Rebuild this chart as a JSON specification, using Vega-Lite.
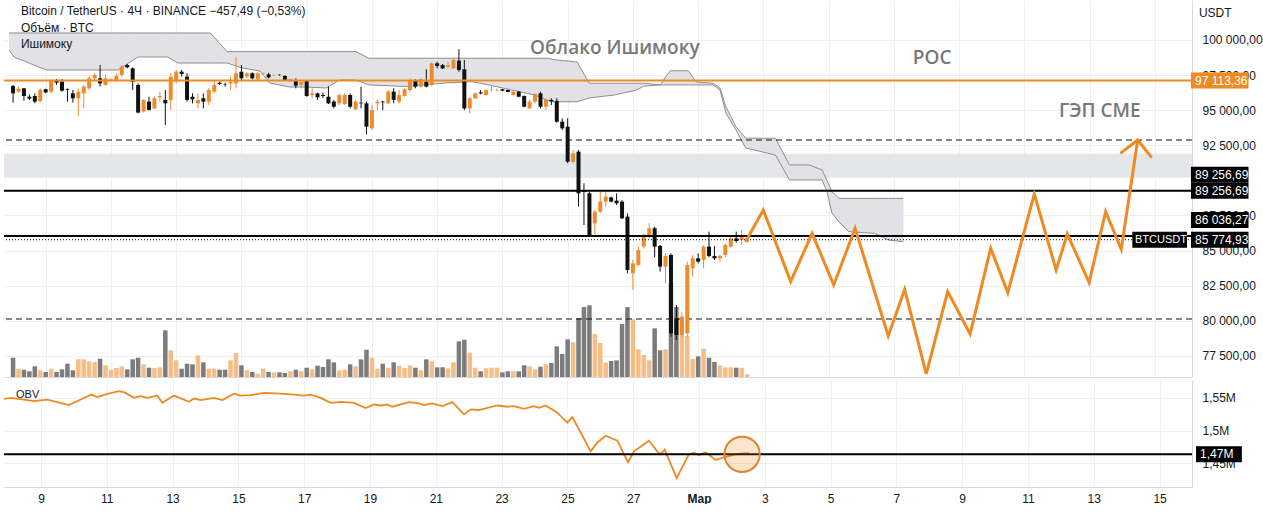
{
"$schema":"https://vega.github.io/schema/vega-lite/v6.json",
"padding":0,
"background":"white",
"spacing":0,
"config":{"view":{"stroke":null},"font":"Liberation Sans","axis":{"gridColor":"#eef0f5","domainColor":"#d6d9e0","labelColor":"#131722","labelFontSize":12,"labelFont":"Liberation Sans","ticks":false,"title":null}},
"datasets":{
"candles":[
{"d":8,"o":96720,"h":96800,"l":95540,"c":96200,"v":5115},
{"d":8.167,"o":96320,"h":96680,"l":96250,"c":96530,"v":2200},
{"d":8.333,"o":96560,"h":96560,"l":95680,"c":96010,"v":1935},
{"d":8.5,"o":95960,"h":96130,"l":95730,"c":95820,"v":1510},
{"d":8.667,"o":96010,"h":96200,"l":95490,"c":95610,"v":2835},
{"d":8.833,"o":95660,"h":96560,"l":95540,"c":96440,"v":1775},
{"d":9,"o":96490,"h":96540,"l":96200,"c":96270,"v":1325},
{"d":9.167,"o":96320,"h":97200,"l":96200,"c":97150,"v":2200},
{"d":9.333,"o":97080,"h":97220,"l":96800,"c":96960,"v":1325},
{"d":9.5,"o":97030,"h":97220,"l":96320,"c":96390,"v":2040},
{"d":9.667,"o":96490,"h":96560,"l":95610,"c":96440,"v":3525},
{"d":9.833,"o":96200,"h":96440,"l":95540,"c":95850,"v":1775},
{"d":10,"o":95850,"h":96560,"l":94590,"c":96320,"v":4690},
{"d":10.167,"o":96200,"h":96800,"l":95130,"c":96680,"v":4690},
{"d":10.333,"o":96560,"h":97390,"l":96440,"c":97270,"v":4160},
{"d":10.5,"o":97270,"h":97630,"l":97150,"c":97510,"v":3975},
{"d":10.667,"o":97270,"h":98220,"l":96680,"c":96910,"v":4850},
{"d":10.833,"o":96800,"h":97510,"l":96750,"c":97270,"v":3100},
{"d":11,"o":97150,"h":97270,"l":97100,"c":97200,"v":1935},
{"d":11.167,"o":97150,"h":97630,"l":97030,"c":97440,"v":2385},
{"d":11.333,"o":97510,"h":98220,"l":97390,"c":98100,"v":2835},
{"d":11.5,"o":98220,"h":98290,"l":97980,"c":98050,"v":2040},
{"d":11.667,"o":97980,"h":98050,"l":96440,"c":97030,"v":4690},
{"d":11.833,"o":96800,"h":96910,"l":94780,"c":94830,"v":5115},
{"d":12,"o":94900,"h":95770,"l":94830,"c":95730,"v":3365},
{"d":12.167,"o":95610,"h":95960,"l":94970,"c":95020,"v":2465},
{"d":12.333,"o":95130,"h":95960,"l":95090,"c":95850,"v":2385},
{"d":12.5,"o":95920,"h":96320,"l":95610,"c":96010,"v":2570},
{"d":12.667,"o":95730,"h":96440,"l":93950,"c":95490,"v":12375},
{"d":12.833,"o":95730,"h":97630,"l":95020,"c":97390,"v":7075},
{"d":13,"o":97030,"h":97860,"l":96910,"c":97740,"v":4425},
{"d":13.167,"o":97740,"h":97860,"l":97390,"c":97580,"v":2200},
{"d":13.333,"o":97390,"h":97630,"l":95610,"c":95730,"v":3525},
{"d":13.5,"o":95960,"h":96200,"l":95490,"c":95770,"v":3365},
{"d":13.667,"o":95490,"h":96200,"l":95130,"c":95730,"v":5750},
{"d":13.833,"o":95850,"h":96200,"l":95130,"c":95610,"v":3895},
{"d":14,"o":95610,"h":96560,"l":95370,"c":96440,"v":2200},
{"d":14.167,"o":96320,"h":97150,"l":96200,"c":96800,"v":2200},
{"d":14.333,"o":96960,"h":97030,"l":96800,"c":96870,"v":1935},
{"d":14.5,"o":96850,"h":96960,"l":96680,"c":96820,"v":1935},
{"d":14.667,"o":96910,"h":97390,"l":96440,"c":97030,"v":4425},
{"d":14.833,"o":96910,"h":98810,"l":96560,"c":97630,"v":6360},
{"d":15,"o":97740,"h":98220,"l":97150,"c":97270,"v":3100},
{"d":15.167,"o":97390,"h":97700,"l":97300,"c":97630,"v":1775},
{"d":15.333,"o":97630,"h":97700,"l":97200,"c":97270,"v":1325},
{"d":15.5,"o":97200,"h":97740,"l":97150,"c":97630,"v":875},
{"d":15.667,"o":97580,"h":97680,"l":97550,"c":97620,"v":2200},
{"d":15.833,"o":97550,"h":97670,"l":97270,"c":97340,"v":1325},
{"d":16,"o":97480,"h":97560,"l":97440,"c":97510,"v":1245},
{"d":16.167,"o":97520,"h":97560,"l":97460,"c":97490,"v":1245},
{"d":16.333,"o":97440,"h":97500,"l":97100,"c":97150,"v":1060},
{"d":16.5,"o":97100,"h":97260,"l":97050,"c":97200,"v":1510},
{"d":16.667,"o":97150,"h":97270,"l":96560,"c":96750,"v":1935},
{"d":16.833,"o":96800,"h":97030,"l":96560,"c":97030,"v":1510},
{"d":17,"o":97100,"h":97150,"l":95960,"c":96010,"v":2465},
{"d":17.167,"o":96080,"h":96560,"l":95850,"c":96200,"v":2040},
{"d":17.333,"o":96200,"h":96250,"l":95730,"c":95920,"v":2995},
{"d":17.5,"o":96080,"h":96250,"l":95850,"c":96010,"v":2650},
{"d":17.667,"o":95960,"h":96680,"l":95440,"c":95490,"v":4690},
{"d":17.833,"o":95610,"h":95730,"l":95130,"c":95250,"v":3895},
{"d":18,"o":95490,"h":96200,"l":95370,"c":96080,"v":1775},
{"d":18.167,"o":95440,"h":96200,"l":95370,"c":96080,"v":1935},
{"d":18.333,"o":96080,"h":96200,"l":95130,"c":95250,"v":3365},
{"d":18.5,"o":95060,"h":95730,"l":95010,"c":95610,"v":2835},
{"d":18.667,"o":95540,"h":96680,"l":95130,"c":95490,"v":4690},
{"d":18.833,"o":95490,"h":95610,"l":93280,"c":93830,"v":7235},
{"d":19,"o":93710,"h":95370,"l":93590,"c":95010,"v":5115},
{"d":19.167,"o":95490,"h":95730,"l":95010,"c":95610,"v":2200},
{"d":19.333,"o":95610,"h":95660,"l":95010,"c":95560,"v":3525},
{"d":19.5,"o":95490,"h":96440,"l":95440,"c":96320,"v":2465},
{"d":19.667,"o":96320,"h":96560,"l":95490,"c":95730,"v":3895},
{"d":19.833,"o":95610,"h":96440,"l":95490,"c":96080,"v":2995},
{"d":20,"o":96010,"h":96560,"l":95960,"c":96490,"v":2385},
{"d":20.167,"o":96440,"h":97270,"l":96320,"c":97100,"v":3100},
{"d":20.333,"o":97100,"h":97200,"l":96560,"c":96680,"v":2465},
{"d":20.5,"o":96680,"h":97250,"l":96620,"c":97200,"v":1775},
{"d":20.667,"o":97030,"h":97910,"l":96630,"c":96680,"v":4690},
{"d":20.833,"o":96800,"h":98390,"l":96720,"c":98340,"v":4160},
{"d":21,"o":98340,"h":98460,"l":97980,"c":98150,"v":2570},
{"d":21.167,"o":98220,"h":98290,"l":97930,"c":97980,"v":2570},
{"d":21.333,"o":98100,"h":98460,"l":97980,"c":98220,"v":2305},
{"d":21.5,"o":97980,"h":98650,"l":97930,"c":98580,"v":3895},
{"d":21.667,"o":98530,"h":99340,"l":97740,"c":97860,"v":9460},
{"d":21.833,"o":97910,"h":98580,"l":95010,"c":95130,"v":9885},
{"d":22,"o":95130,"h":95960,"l":94780,"c":95850,"v":6440},
{"d":22.167,"o":95850,"h":96250,"l":95800,"c":96200,"v":2465},
{"d":22.333,"o":96270,"h":96440,"l":96130,"c":96200,"v":1510},
{"d":22.5,"o":96080,"h":96480,"l":96050,"c":96440,"v":2305},
{"d":22.667,"o":96460,"h":96800,"l":96320,"c":96490,"v":2465},
{"d":22.833,"o":96420,"h":96560,"l":96320,"c":96440,"v":2465},
{"d":23,"o":96490,"h":96520,"l":96350,"c":96390,"v":1245},
{"d":23.167,"o":96440,"h":96470,"l":96270,"c":96300,"v":1510},
{"d":23.333,"o":96080,"h":96360,"l":96050,"c":96320,"v":1510},
{"d":23.5,"o":96320,"h":96360,"l":95920,"c":95960,"v":1510},
{"d":23.667,"o":96010,"h":96050,"l":95200,"c":95250,"v":3100},
{"d":23.833,"o":95130,"h":95730,"l":95060,"c":95610,"v":2835},
{"d":24,"o":95610,"h":96200,"l":95490,"c":96150,"v":2040},
{"d":24.167,"o":96200,"h":96320,"l":95130,"c":95250,"v":2730},
{"d":24.333,"o":95250,"h":95850,"l":95010,"c":95770,"v":3365},
{"d":24.5,"o":95730,"h":95850,"l":95370,"c":95630,"v":3710},
{"d":24.667,"o":95660,"h":95850,"l":94110,"c":94180,"v":8135},
{"d":24.833,"o":94180,"h":94420,"l":93590,"c":93710,"v":6095},
{"d":25,"o":93830,"h":94420,"l":91220,"c":91330,"v":9990},
{"d":25.167,"o":91330,"h":92170,"l":91220,"c":91930,"v":9195},
{"d":25.333,"o":92050,"h":92170,"l":88130,"c":89080,"v":15635},
{"d":25.5,"o":89250,"h":89790,"l":86820,"c":89180,"v":18550},
{"d":25.667,"o":89080,"h":89200,"l":85990,"c":86000,"v":19000},
{"d":25.833,"o":86940,"h":87890,"l":86110,"c":87770,"v":11395},
{"d":26,"o":87770,"h":89200,"l":87660,"c":88490,"v":9010},
{"d":26.167,"o":88490,"h":89200,"l":88130,"c":88840,"v":3840},
{"d":26.333,"o":88790,"h":88840,"l":88440,"c":88490,"v":4240},
{"d":26.5,"o":88560,"h":89080,"l":88250,"c":88370,"v":4425},
{"d":26.667,"o":88485,"h":88600,"l":87250,"c":87300,"v":14045},
{"d":26.833,"o":87420,"h":87650,"l":83380,"c":83620,"v":18550},
{"d":27,"o":83380,"h":84330,"l":82190,"c":84090,"v":15290},
{"d":27.167,"o":83980,"h":85280,"l":83860,"c":85040,"v":7340},
{"d":27.333,"o":85280,"h":86230,"l":85160,"c":86110,"v":5830},
{"d":27.5,"o":85990,"h":86940,"l":85870,"c":86590,"v":4425},
{"d":27.667,"o":86590,"h":86700,"l":84520,"c":85280,"v":12905},
{"d":27.833,"o":85330,"h":85400,"l":83500,"c":83860,"v":7075},
{"d":28,"o":83860,"h":84800,"l":82670,"c":84620,"v":7340},
{"d":28.167,"o":84690,"h":84800,"l":78870,"c":79110,"v":24910},
{"d":28.333,"o":80175,"h":81125,"l":78630,"c":78990,"v":18550},
{"d":28.5,"o":78990,"h":80650,"l":78870,"c":80290,"v":15900},
{"d":28.667,"o":79110,"h":84210,"l":78870,"c":83970,"v":10865},
{"d":28.833,"o":83740,"h":84690,"l":83140,"c":84450,"v":4770},
{"d":29,"o":84450,"h":84800,"l":84090,"c":84210,"v":5485},
{"d":29.167,"o":84330,"h":85400,"l":83740,"c":85280,"v":7500},
{"d":29.333,"o":85280,"h":86350,"l":84520,"c":84620,"v":5115},
{"d":29.5,"o":84620,"h":85330,"l":84330,"c":84450,"v":3975},
{"d":29.667,"o":84450,"h":84690,"l":84210,"c":84620,"v":3100},
{"d":29.833,"o":84690,"h":85520,"l":84520,"c":85400,"v":2570},
{"d":30,"o":85280,"h":86110,"l":85230,"c":85870,"v":2570},
{"d":30.167,"o":85870,"h":86350,"l":85560,"c":85680,"v":2465},
{"d":30.333,"o":85750,"h":86470,"l":85400,"c":85990,"v":2465},
{"d":30.5,"o":85640,"h":86000,"l":85580,"c":85775,"v":715}
],
"cloud":[
{"d":7.875,"a":100500,"b":99290},{"d":8.03,"a":100500,"b":98790},{"d":8.79,"a":100500,"b":98080},{"d":9.03,"a":100500,"b":97860},
{"d":11.22,"a":100500,"b":97860},{"d":11.68,"a":100500,"b":98570},{"d":11.83,"a":100500,"b":98790},{"d":12.74,"a":100500,"b":98790},
{"d":13.04,"a":100500,"b":98360},{"d":14.05,"a":100500,"b":98360},{"d":14.56,"a":99170,"b":98360},{"d":15.02,"a":99170,"b":98010},
{"d":15.57,"a":99170,"b":97790},{"d":15.87,"a":99170,"b":96940},{"d":16.48,"a":99170,"b":96650},{"d":17.0,"a":99170,"b":96650},
{"d":17.6,"a":99170,"b":96580},{"d":18.0,"a":99170,"b":97150},{"d":18.51,"a":99170,"b":97150},{"d":18.91,"a":98700,"b":96800},
{"d":20.03,"a":98700,"b":96690},{"d":21.25,"a":98700,"b":96940},{"d":22.06,"a":98700,"b":97030},{"d":22.37,"a":98700,"b":96900},
{"d":23.29,"a":98700,"b":96440},{"d":23.99,"a":98700,"b":96080},{"d":24.38,"a":98700,"b":95700},{"d":24.59,"a":98600,"b":95600},
{"d":25.29,"a":98430,"b":95600},{"d":25.66,"a":96920,"b":95870},{"d":26.42,"a":96920,"b":96080},{"d":27.12,"a":96920,"b":96440},
{"d":27.33,"a":96920,"b":96720},{"d":27.85,"a":96800,"b":96800},{"d":28.0,"a":97360,"b":96800},{"d":28.15,"a":97810,"b":96800},
{"d":28.7,"a":97810,"b":96800},{"d":28.94,"a":97010,"b":96800},{"d":29.46,"a":96920,"b":96800},{"d":29.67,"a":96580,"b":96440},
{"d":29.85,"a":95250,"b":94800},{"d":30.16,"a":93820,"b":93590},{"d":30.46,"a":93020,"b":92310},{"d":30.98,"a":93000,"b":92020},
{"d":31.37,"a":93000,"b":91810},{"d":31.8,"a":91100,"b":90030},{"d":32.41,"a":91100,"b":90030},{"d":32.8,"a":90740,"b":90030},
{"d":32.95,"a":90000,"b":89200},{"d":33.1,"a":89190,"b":87680},{"d":33.32,"a":88720,"b":87040},{"d":33.62,"a":88720,"b":86350},
{"d":34.41,"a":88720,"b":86230},{"d":34.84,"a":88720,"b":85750},{"d":35.29,"a":88720,"b":85630}
],
"zigzag":[
{"d":30.47,"p":85700,"seg":"main","k":0},{"d":30.997,"p":87893,"seg":"main","k":1},{"d":31.836,"p":82788,"seg":"main","k":2},
{"d":32.495,"p":86231,"seg":"main","k":3},{"d":33.155,"p":82551,"seg":"main","k":4},{"d":33.812,"p":86587,"seg":"main","k":5},
{"d":34.827,"p":78919,"seg":"main","k":6},{"d":35.331,"p":82242,"seg":"main","k":7},{"d":35.991,"p":76212,"seg":"main","k":8},
{"d":36.65,"p":82076,"seg":"main","k":9},{"d":37.337,"p":79061,"seg":"main","k":10},{"d":37.967,"p":85163,"seg":"main","k":11},
{"d":38.492,"p":82005,"seg":"main","k":12},{"d":39.304,"p":89032,"seg":"main","k":13},{"d":39.973,"p":83619,"seg":"main","k":14},
{"d":40.316,"p":86184,"seg":"main","k":15},{"d":40.985,"p":82717,"seg":"main","k":16},{"d":41.492,"p":87774,"seg":"main","k":17},
{"d":41.97,"p":85092,"seg":"main","k":18},{"d":42.474,"p":92878,"seg":"main","k":19},
{"d":41.97,"p":91976,"seg":"w1","k":0},{"d":42.474,"p":92878,"seg":"w1","k":1},
{"d":42.474,"p":92878,"seg":"w2","k":0},{"d":42.881,"p":91693,"seg":"w2","k":1}
],
"obv":[
{"d":7.875,"v":1.5485},{"d":8.079,"v":1.55},{"d":8.483,"v":1.5474},{"d":8.787,"v":1.545},{"d":9.192,"v":1.5474},{"d":9.496,"v":1.5435},
{"d":9.851,"v":1.5389},{"d":10.206,"v":1.5474},{"d":10.529,"v":1.555},{"d":10.712,"v":1.5511},{"d":11.016,"v":1.5561},{"d":11.371,"v":1.5601},
{"d":11.523,"v":1.5586},{"d":11.827,"v":1.55},{"d":12.03,"v":1.5525},{"d":12.232,"v":1.55},{"d":12.535,"v":1.5535},{"d":12.687,"v":1.5424},
{"d":13.042,"v":1.5535},{"d":13.499,"v":1.5439},{"d":13.651,"v":1.5489},{"d":13.854,"v":1.5465},{"d":14.258,"v":1.55},{"d":14.511,"v":1.5465},
{"d":14.866,"v":1.5565},{"d":15.07,"v":1.5535},{"d":15.374,"v":1.5541},{"d":15.778,"v":1.5576},{"d":16.286,"v":1.5565},{"d":16.69,"v":1.555},
{"d":16.994,"v":1.5535},{"d":17.197,"v":1.555},{"d":17.501,"v":1.55},{"d":17.805,"v":1.5424},{"d":18.109,"v":1.5439},{"d":18.514,"v":1.5424},
{"d":18.869,"v":1.5344},{"d":19.122,"v":1.5398},{"d":19.325,"v":1.5383},{"d":19.526,"v":1.5398},{"d":19.678,"v":1.5364},{"d":20.186,"v":1.5435},
{"d":20.489,"v":1.5414},{"d":20.641,"v":1.5389},{"d":20.894,"v":1.5414},{"d":21.198,"v":1.5374},{"d":21.501,"v":1.5435},{"d":21.857,"v":1.5247},
{"d":22.06,"v":1.5323},{"d":22.313,"v":1.5314},{"d":22.869,"v":1.5383},{"d":23.173,"v":1.5364},{"d":23.377,"v":1.5374},{"d":23.681,"v":1.5333},
{"d":23.985,"v":1.5374},{"d":24.137,"v":1.5348},{"d":24.34,"v":1.5383},{"d":24.693,"v":1.5273},{"d":24.997,"v":1.5121},{"d":25.149,"v":1.5207},
{"d":25.404,"v":1.497},{"d":25.708,"v":1.4682},{"d":25.909,"v":1.4818},{"d":26.164,"v":1.492},{"d":26.517,"v":1.4844},{"d":26.842,"v":1.4515},
{"d":27.025,"v":1.4682},{"d":27.48,"v":1.4844},{"d":27.733,"v":1.4677},{"d":27.836,"v":1.4641},{"d":27.957,"v":1.4708},{"d":28.14,"v":1.4489},
{"d":28.322,"v":1.4273},{"d":28.696,"v":1.4641},{"d":28.848,"v":1.4656},{"d":28.999,"v":1.4626},{"d":29.203,"v":1.4667},{"d":29.507,"v":1.455},
{"d":29.76,"v":1.4591},{"d":30.164,"v":1.4641},{"d":30.52,"v":1.4652}
]
},
"resolve":{"scale":{"x":"independent","y":"independent"}},
"vconcat":[
{
"width":1188,"height":377,
"resolve":{"scale":{"y":"independent"}},
"layer":[
{"data":{"name":"candles"},"mark":{"type":"bar","width":4.5},
 "encoding":{
  "x":{"field":"d","type":"quantitative","scale":{"domain":[7.8754,43.985],"nice":false,"zero":false},
       "axis":{"orient":"bottom","values":[9,11,13,15,17,19,21,23,25,27,29,31,33,35,37,39,41,43],"labels":false,"grid":true,"domain":true,"ticks":false,"minExtent":0,"maxExtent":0}},
  "y":{"field":"v","type":"quantitative","scale":{"domain":[0,100000],"nice":false,"zero":true},"axis":null},
  "color":{"condition":{"test":"datum.c >= datum.o","value":"#f6bd87"},"value":"#7c7c7c"}}},
{"layer":[
 {"data":{"name":"candles"},"mark":{"type":"rule","strokeWidth":1},
  "encoding":{"x":{"field":"d","type":"quantitative","scale":{"domain":[7.8754,43.985],"nice":false,"zero":false}},
   "y":{"field":"l","type":"quantitative","scale":{"domain":[75996,102849],"nice":false,"zero":false},
        "axis":{"orient":"right","values":[77500,80000,82500,85000,87500,92500,95000,97500,100000],"labelExpr":"replace(replace(format(datum.value, ',.2f'), ',', ' '), '.', ',')","grid":true,"domain":true,"ticks":false,"labelPadding":10}},
   "y2":{"field":"h"},
   "color":{"value":"transparent"}}},
 {"data":{"values":[{"lo":90190,"hi":91900}]},"mark":{"type":"rect","color":"#e5e6e9"},
  "encoding":{"y":{"field":"lo","type":"quantitative","scale":{"domain":[75996,102849],"nice":false,"zero":false}},"y2":{"field":"hi"}}},
 {"data":{"name":"cloud"},"mark":{"type":"area","color":"#e2e2e6","opacity":1},
  "encoding":{"x":{"field":"d","type":"quantitative","scale":{"domain":[7.8754,43.985],"nice":false,"zero":false}},
   "y":{"field":"a","type":"quantitative","scale":{"domain":[75996,102849],"nice":false,"zero":false}},"y2":{"field":"b"}}},
 {"data":{"name":"cloud"},"mark":{"type":"line","color":"#8e8e93","strokeWidth":1},
  "encoding":{"x":{"field":"d","type":"quantitative","scale":{"domain":[7.8754,43.985],"nice":false,"zero":false}},
   "y":{"field":"a","type":"quantitative","scale":{"domain":[75996,102849],"nice":false,"zero":false}}}},
 {"data":{"name":"cloud"},"mark":{"type":"line","color":"#8e8e93","strokeWidth":1},
  "encoding":{"x":{"field":"d","type":"quantitative","scale":{"domain":[7.8754,43.985],"nice":false,"zero":false}},
   "y":{"field":"b","type":"quantitative","scale":{"domain":[75996,102849],"nice":false,"zero":false}}}},
 {"data":{"values":[{"p":92877},{"p":80127}]},"mark":{"type":"rule","color":"#111111","strokeWidth":1,"strokeDash":[6,4]},
  "encoding":{"y":{"field":"p","type":"quantitative","scale":{"domain":[75996,102849],"nice":false,"zero":false}}}},
 {"data":{"name":"candles"},"mark":{"type":"rule","strokeWidth":1},
  "encoding":{"x":{"field":"d","type":"quantitative","scale":{"domain":[7.8754,43.985],"nice":false,"zero":false}},
   "y":{"field":"l","type":"quantitative","scale":{"domain":[75996,102849],"nice":false,"zero":false}},
   "y2":{"field":"h"},
   "color":{"condition":{"test":"datum.c >= datum.o","value":"#ee8b2d"},"value":"#111111"}}},
 {"data":{"name":"candles"},"mark":{"type":"bar","width":4},
  "encoding":{"x":{"field":"d","type":"quantitative","scale":{"domain":[7.8754,43.985],"nice":false,"zero":false}},
   "y":{"field":"o","type":"quantitative","scale":{"domain":[75996,102849],"nice":false,"zero":false}},
   "y2":{"field":"c"},
   "color":{"condition":{"test":"datum.c >= datum.o","value":"#ee8b2d"},"value":"#111111"}}},
 {"data":{"values":[{"p":97113.36}]},"mark":{"type":"rule","color":"#ef8a22","strokeWidth":2},
  "encoding":{"y":{"field":"p","type":"quantitative","scale":{"domain":[75996,102849],"nice":false,"zero":false}}}},
 {"data":{"values":[{"p":89256.69},{"p":86036.27}]},"mark":{"type":"rule","color":"#000000","strokeWidth":2},
  "encoding":{"y":{"field":"p","type":"quantitative","scale":{"domain":[75996,102849],"nice":false,"zero":false}}}},
 {"data":{"values":[{"p":85774.93}]},"mark":{"type":"rule","color":"#111111","strokeWidth":1,"strokeDash":[1,2]},
  "encoding":{"y":{"field":"p","type":"quantitative","scale":{"domain":[75996,102849],"nice":false,"zero":false}}}},
 {"data":{"name":"zigzag"},"mark":{"type":"line","color":"#ef8a22","strokeWidth":3,"strokeJoin":"miter","strokeCap":"round"},
  "encoding":{"x":{"field":"d","type":"quantitative","scale":{"domain":[7.8754,43.985],"nice":false,"zero":false}},
   "y":{"field":"p","type":"quantitative","scale":{"domain":[75996,102849],"nice":false,"zero":false}},
   "detail":{"field":"seg"},"order":{"field":"k","type":"quantitative"}}},
 {"data":{"values":[{"label":"Облако Ишимоку","d":26.447,"p":99430},{"label":"POC","d":36.173,"p":98718},{"label":"ГЭП CME","d":41.31,"p":94943}]},
  "mark":{"type":"text","font":"Open Sans","fontSize":19,"fontWeight":600,"color":"#787878","align":"center","baseline":"middle"},
  "encoding":{"x":{"field":"d","type":"quantitative","scale":{"domain":[7.8754,43.985],"nice":false,"zero":false}},
   "y":{"field":"p","type":"quantitative","scale":{"domain":[75996,102849],"nice":false,"zero":false}},
   "text":{"field":"label"}}},
 {"data":{"values":[{"label":"Bitcoin / TetherUS · 4Ч · BINANCE  −457,49 (−0,53%)","p":102066},{"label":"Объём · BTC","p":100890},{"label":"Ишимоку","p":99680}]},
  "mark":{"type":"text","fontSize":12,"color":"#131722","align":"left","baseline":"middle"},
  "encoding":{"x":{"datum":8.24,"type":"quantitative","scale":{"domain":[7.8754,43.985],"nice":false,"zero":false}},
   "y":{"field":"p","type":"quantitative","scale":{"domain":[75996,102849],"nice":false,"zero":false}},
   "text":{"field":"label"}}},
 {"data":{"values":[{"label":"USDT","p":101923}]},
  "mark":{"type":"text","fontSize":12,"color":"#131722","align":"left","baseline":"middle"},
  "encoding":{"x":{"datum":44.35,"type":"quantitative","scale":{"domain":[7.8754,43.985],"nice":false,"zero":false}},
   "y":{"field":"p","type":"quantitative","scale":{"domain":[75996,102849],"nice":false,"zero":false}},
   "text":{"field":"label"}}},
 {"data":{"values":[{"label":"97 113,36","p":97113.36}]},"mark":{"type":"rule","color":"#ef8a22","strokeWidth":16,"strokeCap":"butt"},
  "encoding":{"x":{"datum":44.107,"type":"quantitative","scale":{"domain":[7.8754,43.985],"nice":false,"zero":false}},"x2":{"datum":45.87},
   "y":{"field":"p","type":"quantitative","scale":{"domain":[75996,102849],"nice":false,"zero":false}}}},
 {"data":{"values":[{"label":"89 256,69","p":89256.69},{"label":"85 774,93","p":85774.93}]},"mark":{"type":"rule","color":"#000000","strokeWidth":16,"strokeCap":"butt"},
  "encoding":{"x":{"datum":44.107,"type":"quantitative","scale":{"domain":[7.8754,43.985],"nice":false,"zero":false}},"x2":{"datum":45.87},
   "y":{"field":"p","type":"quantitative","scale":{"domain":[75996,102849],"nice":false,"zero":false}}}},
 {"data":{"values":[{"label":"89 256,69","p":89256.69},{"label":"86 036,27","p":86036.27}]},"mark":{"type":"rule","color":"#000000","strokeWidth":16,"strokeCap":"butt","yOffset":-16},
  "encoding":{"x":{"datum":44.107,"type":"quantitative","scale":{"domain":[7.8754,43.985],"nice":false,"zero":false}},"x2":{"datum":45.87},
   "y":{"field":"p","type":"quantitative","scale":{"domain":[75996,102849],"nice":false,"zero":false}}}},
 {"data":{"values":[{"label":"BTCUSDT","p":85774.93}]},"mark":{"type":"rule","color":"#000000","strokeWidth":16,"strokeCap":"butt"},
  "encoding":{"x":{"datum":42.31,"type":"quantitative","scale":{"domain":[7.8754,43.985],"nice":false,"zero":false}},"x2":{"datum":43.985},
   "y":{"field":"p","type":"quantitative","scale":{"domain":[75996,102849],"nice":false,"zero":false}}}},
 {"data":{"values":[{"label":"97 113,36","p":97113.36},{"label":"89 256,69","p":89256.69},{"label":"85 774,93","p":85774.93}]},
  "mark":{"type":"text","fontSize":12,"color":"#ffffff","align":"left","baseline":"middle"},
  "encoding":{"x":{"datum":44.23,"type":"quantitative","scale":{"domain":[7.8754,43.985],"nice":false,"zero":false}},
   "y":{"field":"p","type":"quantitative","scale":{"domain":[75996,102849],"nice":false,"zero":false}},
   "text":{"field":"label"}}},
 {"data":{"values":[{"label":"89 256,69","p":89256.69},{"label":"86 036,27","p":86036.27}]},
  "mark":{"type":"text","fontSize":12,"color":"#ffffff","align":"left","baseline":"middle","yOffset":-16},
  "encoding":{"x":{"datum":44.23,"type":"quantitative","scale":{"domain":[7.8754,43.985],"nice":false,"zero":false}},
   "y":{"field":"p","type":"quantitative","scale":{"domain":[75996,102849],"nice":false,"zero":false}},
   "text":{"field":"label"}}},
 {"data":{"values":[{"label":"BTCUSDT","p":85774.93}]},
  "mark":{"type":"text","fontSize":11,"color":"#ffffff","align":"left","baseline":"middle"},
  "encoding":{"x":{"datum":42.39,"type":"quantitative","scale":{"domain":[7.8754,43.985],"nice":false,"zero":false}},
   "y":{"field":"p","type":"quantitative","scale":{"domain":[75996,102849],"nice":false,"zero":false}},
   "text":{"field":"label"}}}
]}
]
},
{
"width":1188,"height":107,
"layer":[
 {"data":{"name":"obv"},"mark":{"type":"line","color":"#ef8a22","strokeWidth":1.8},
  "encoding":{
   "x":{"field":"d","type":"quantitative","scale":{"domain":[7.8754,43.985],"nice":false,"zero":false},
        "axis":{"orient":"bottom","values":[9,11,13,15,17,19,21,23,25,27,29,31,33,35,37,39,41,43],
                "labelExpr":"datum.value == 29 ? 'Мар' : (datum.value > 29 ? '' + (datum.value - 28) : '' + datum.value)",
                "labelFontWeight":{"condition":{"test":"datum.value == 29","value":700},"value":400},
                "grid":true,"domain":true,"ticks":false,"labelPadding":6}},
   "y":{"field":"v","type":"quantitative","scale":{"domain":[1.4136,1.5773],"nice":false,"zero":false},
        "axis":{"orient":"right","values":[1.45,1.5,1.55],"labelExpr":"replace(format(datum.value, '.2~f'), '.', ',') + 'M'","grid":true,"domain":true,"ticks":false,"labelPadding":10}}}},
 {"data":{"values":[{"v":1.4636}]},"mark":{"type":"rule","color":"#000000","strokeWidth":2},
  "encoding":{"y":{"field":"v","type":"quantitative","scale":{"domain":[1.4136,1.5773],"nice":false,"zero":false}}}},
 {"data":{"values":[{"d":30.31,"v":1.4636}]},"mark":{"type":"point","shape":"circle","size":1250,"filled":true,"fill":"#ef8a22","fillOpacity":0.22,"stroke":"#e3842a","strokeWidth":2,"opacity":1},
  "encoding":{"x":{"field":"d","type":"quantitative","scale":{"domain":[7.8754,43.985],"nice":false,"zero":false}},
   "y":{"field":"v","type":"quantitative","scale":{"domain":[1.4136,1.5773],"nice":false,"zero":false}}}},
 {"data":{"values":[{"label":"OBV","v":1.5545}]},"mark":{"type":"text","fontSize":11,"color":"#131722","align":"left","baseline":"middle"},
  "encoding":{"x":{"datum":8.24,"type":"quantitative","scale":{"domain":[7.8754,43.985],"nice":false,"zero":false}},
   "y":{"field":"v","type":"quantitative","scale":{"domain":[1.4136,1.5773],"nice":false,"zero":false}},
   "text":{"field":"label"}}},
 {"data":{"values":[{"label":"1,47M","v":1.4636}]},"mark":{"type":"rule","color":"#000000","strokeWidth":16,"strokeCap":"butt"},
  "encoding":{"x":{"datum":44.107,"type":"quantitative","scale":{"domain":[7.8754,43.985],"nice":false,"zero":false}},"x2":{"datum":45.5},
   "y":{"field":"v","type":"quantitative","scale":{"domain":[1.4136,1.5773],"nice":false,"zero":false}}}},
 {"data":{"values":[{"label":"1,47M","v":1.4636}]},"mark":{"type":"text","fontSize":12,"color":"#ffffff","align":"left","baseline":"middle"},
  "encoding":{"x":{"datum":44.23,"type":"quantitative","scale":{"domain":[7.8754,43.985],"nice":false,"zero":false}},
   "y":{"field":"v","type":"quantitative","scale":{"domain":[1.4136,1.5773],"nice":false,"zero":false}},
   "text":{"field":"label"}}}
]
}
]
}
